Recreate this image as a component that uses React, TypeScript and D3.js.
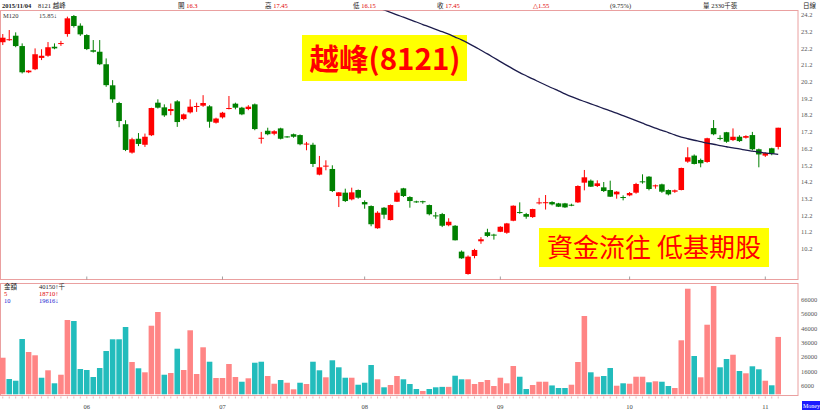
import React from 'react';
import * as d3 from 'd3';

const opens = [22.57,22.70,22.96,22.34,20.77,20.95,21.63,21.76,22.30,22.48,23.06,24.14,23.56,23.00,22.09,22.00,21.25,19.99,18.93,17.66,15.96,16.79,16.43,17.00,18.95,18.67,18.45,19.03,17.97,18.37,18.72,18.77,18.73,17.75,18.07,18.60,18.89,18.65,18.57,18.85,16.80,17.27,17.09,17.41,16.93,17.06,17.01,16.45,16.43,14.64,15.13,14.98,13.36,13.56,13.16,13.72,13.00,12.76,11.43,12.66,11.92,13.02,13.82,13.30,13.04,13.05,12.82,12.20,12.28,11.61,11.58,10.03,8.69,9.77,10.65,11.19,11.05,11.22,11.16,11.88,12.40,12.28,12.10,12.94,12.95,13.00,12.92,12.92,12.84,12.98,14.16,14.28,13.96,13.88,13.72,13.46,13.30,13.40,13.56,14.24,14.52,13.96,14.06,13.72,13.62,13.72,15.42,15.78,15.52,15.40,17.43,16.84,17.18,16.71,16.91,16.85,17.01,16.16,15.78,16.22,16.30];
const highs = [23.06,23.30,23.16,22.50,20.90,22.20,22.15,22.58,22.50,22.65,24.10,24.20,23.70,23.05,22.70,22.70,21.60,20.30,19.00,17.90,16.85,17.13,17.10,18.65,19.15,18.85,18.90,19.10,18.30,19.15,18.95,19.40,18.80,18.05,18.40,19.35,18.95,18.70,18.80,18.90,17.20,17.45,17.30,17.45,16.95,17.10,17.05,16.60,16.55,15.76,15.50,15.20,13.60,13.80,13.86,13.75,13.10,12.80,12.45,12.70,12.85,13.70,13.85,13.35,13.08,13.08,12.85,12.40,12.35,12.03,11.62,10.10,9.80,10.20,10.90,11.40,11.10,11.55,11.75,12.80,12.98,12.35,12.60,13.25,13.42,13.05,12.95,12.95,12.90,14.00,14.92,14.35,14.30,14.20,14.28,13.65,13.40,13.60,14.15,14.66,14.55,14.05,14.10,13.75,13.75,15.06,16.28,15.85,15.60,16.85,17.91,17.00,17.20,17.41,17.00,17.00,17.20,16.20,15.96,16.25,17.45];
const lows = [22.40,22.65,22.27,20.70,20.72,20.90,21.50,21.70,22.15,22.35,22.90,23.45,22.95,22.10,21.95,21.20,19.90,18.95,17.48,16.05,15.90,16.35,16.30,16.95,18.60,18.10,18.20,17.50,17.90,18.30,18.40,18.70,17.45,17.70,18.00,18.55,18.55,18.20,18.50,17.30,16.50,17.00,17.00,16.75,16.85,16.85,16.40,16.10,15.10,14.60,14.90,13.60,12.70,13.00,13.10,13.20,12.60,11.55,11.40,12.00,11.90,13.00,13.30,12.66,12.95,12.90,12.20,12.00,11.50,11.55,10.70,9.60,8.65,9.63,10.50,10.90,10.75,11.20,11.10,11.85,12.30,12.00,12.05,12.85,12.55,12.80,12.70,12.65,12.75,12.95,13.70,13.90,13.90,13.60,13.30,13.20,13.10,13.35,13.50,14.10,13.70,13.80,13.55,13.40,13.55,13.70,15.35,15.25,15.08,15.35,17.00,16.70,16.55,16.65,16.60,16.80,16.10,15.08,15.70,15.80,16.15];
const closes = [22.84,22.75,22.34,20.77,20.87,21.85,21.76,22.27,22.20,22.52,24.00,23.54,23.04,22.16,22.00,21.25,20.00,19.15,17.85,16.12,16.76,16.48,16.91,18.63,18.65,18.19,18.57,17.79,18.25,18.71,18.75,18.93,17.81,18.00,18.35,18.63,18.65,18.25,18.71,17.37,16.85,17.06,17.24,16.79,16.89,16.91,16.46,16.50,15.28,15.08,15.18,13.66,13.58,13.06,13.58,13.26,12.86,11.67,12.36,12.24,12.82,13.56,13.36,13.06,13.00,13.02,12.27,12.16,11.58,11.82,10.71,9.63,9.73,10.13,10.77,10.97,11.01,11.52,11.72,12.78,12.36,12.12,12.58,12.98,12.99,12.86,12.72,12.68,12.80,13.96,14.48,13.92,14.12,13.66,13.32,13.62,13.26,13.54,14.08,14.20,13.78,14.00,13.62,13.46,13.70,15.04,15.68,15.28,15.32,16.82,17.06,16.80,16.61,16.91,16.65,16.95,16.16,15.85,15.93,15.90,17.45];
const volumes = [25600,10700,9500,38700,29600,27300,11600,16800,7700,13700,52000,51300,17700,17000,12100,18400,30300,38500,38500,47100,22600,18200,15400,48000,57600,13700,14900,31900,17000,44800,14200,32900,22800,11400,11400,21200,12100,8800,11200,22100,22800,12800,7400,10000,8100,3500,8100,7200,22800,16800,11900,23800,18900,11600,11600,6700,8100,20500,10500,4900,6500,12800,10500,7200,3700,2300,3700,4900,5200,5200,13000,10500,10500,7200,8600,10000,5800,11600,7700,19800,12300,3700,6500,8800,8800,6200,4400,4400,6700,22600,54800,15400,12300,12800,18400,6000,7700,7400,12300,12300,8400,9100,8800,5800,4400,37800,73900,26800,11900,48700,75800,18900,24700,27700,16300,14700,19600,17500,9500,6300,40150];
const ma120Start = 55;
const ma120 = [25.10,24.95,24.80,24.65,24.50,24.36,24.21,24.07,23.92,23.78,23.63,23.49,23.34,23.20,23.05,22.88,22.71,22.52,22.31,22.09,21.87,21.64,21.41,21.18,20.96,20.75,20.56,20.37,20.19,20.01,19.83,19.66,19.48,19.31,19.16,19.02,18.88,18.74,18.60,18.46,18.32,18.17,18.02,17.87,17.72,17.57,17.43,17.29,17.16,17.02,16.89,16.79,16.70,16.62,16.53,16.46,16.38,16.31,16.24,16.18,16.11,16.05,15.99,15.94,15.90,15.85];
const priceTicks = [24.2,23.2,22.2,21.2,20.2,19.2,18.2,17.2,16.2,15.2,14.2,13.2,12.2,11.2,10.2];
const volumeTicks = [66000,56000,46000,36000,26000,16000,6000];
const monthLabels = ['06','07','08','09','10','11'];
const monthIndex = [13,34,56,77,97,118];

const SERIF = "'Liberation Serif','DejaVu Serif','Noto Sans CJK TC',serif";
const CJK = "'Noto Sans CJK TC','Noto Sans CJK SC',sans-serif";
const BORDER = '#eaa0a0';
const UP = '#ff0000';
const DOWN = '#008000';
const VUP = '#ff8585';
const VDOWN = '#22bcbc';

const PANEL_R = 797.5;
const MAIN_TOP = 10.5;
const MAIN_BOTTOM = 279.5;
const VOL_TOP = 283.5;
const VOL_BOTTOM = 395.5;

export default function App() {
  const idx = d3.range(closes.length);
  const x = d3.scaleBand<number>().domain(idx).range([0, 781]).paddingInner(0.14);
  const bw = x.bandwidth();
  const cx = (i: number) => (x(i) as number) + bw / 2;
  const y = d3.scaleLinear().domain([10.2, 24.2]).range([248.8, 15]);
  const yv = d3.scaleLinear().domain([0, 66000]).range([394.3, 300]);

  const maLine = d3
    .line<number>()
    .x((_, k) => cx(ma120Start + k))
    .y((v) => y(v))
    .curve(d3.curveMonotoneX)(ma120) || '';

  const header: { t: string; v?: string; x: number; c?: string }[] = [
    { t: '開', v: '16.3', x: 178 },
    { t: '高', v: '17.45', x: 265 },
    { t: '低', v: '16.15', x: 353 },
    { t: '收', v: '17.45', x: 437 },
  ];

  return (
    <svg
      width={820}
      height={413}
      style={{ position: 'absolute', left: 0, top: 0, background: '#fff' }}
      fontFamily={SERIF}
    >
      <defs>
        <clipPath id="mainClip">
          <rect x={0} y={MAIN_TOP} width={PANEL_R} height={MAIN_BOTTOM - MAIN_TOP} />
        </clipPath>
      </defs>
      <rect x={0} y={0} width={820} height={413} fill="#fff" />

      {/* header */}
      <g fontSize={6.5} fill="#222">
        <text x={2} y={7.5} fontWeight="bold">2015/11/04</text>
        <text x={38} y={7.5}>8121 越峰</text>
        {header.map((h) => (
          <text key={h.t} x={h.x} y={7.5}>
            <tspan fill="#222">{h.t} </tspan>
            <tspan fill="#e00000">{h.v}</tspan>
          </text>
        ))}
        <text x={533} y={7.5} fill="#e00000">△1.55</text>
        <text x={610} y={7.5}>(9.75%)</text>
        <text x={703} y={7.5}>量 2330千張</text>
        <text x={803} y={7.5}>日線</text>
      </g>

      {/* panels */}
      <rect x={0.5} y={MAIN_TOP} width={PANEL_R} height={MAIN_BOTTOM - MAIN_TOP} fill="none" stroke={BORDER} strokeWidth={1} />
      <rect x={0.5} y={VOL_TOP} width={PANEL_R} height={VOL_BOTTOM - VOL_TOP} fill="none" stroke={BORDER} strokeWidth={1} />

      {/* annotation boxes */}
      <rect x={302} y={35} width={165} height={46} fill="#ffff00" />
      <text x={385} y={70} textAnchor="middle" fontFamily={CJK} fontWeight="bold" fontSize={29.5} fill="#ff0000">越峰(8121)</text>
      <rect x={539} y={228} width={230} height={39} fill="#ffff00" />
      <text x={654} y={257} textAnchor="middle" fontFamily={CJK} fontSize={26} fill="#ff0000">資金流往 低基期股</text>

      {/* price axis */}
      <g fontSize={6.5} fill="#555">
        {priceTicks.map((t) => (
          <text key={t} x={801} y={y(t) + 2.2}>{t.toFixed(1)}</text>
        ))}
      </g>

      {/* candles */}
      <g clipPath="url(#mainClip)">
        {idx.map((i) => {
          const up = closes[i] >= opens[i];
          const col = up ? UP : DOWN;
          const top = y(Math.max(opens[i], closes[i]));
          const bot = y(Math.min(opens[i], closes[i]));
          return (
            <g key={i}>
              <line x1={cx(i)} x2={cx(i)} y1={y(highs[i])} y2={y(lows[i])} stroke={col} strokeWidth={1} />
              <rect x={x(i) as number} y={top} width={bw} height={Math.max(1, bot - top)} fill={col} />
            </g>
          );
        })}
        <path d={maLine} fill="none" stroke="#1c1c4c" strokeWidth={1.3} />
      </g>

      {/* month ticks at main bottom */}
      {monthIndex.map((m) => (
        <line key={'mt' + m} x1={cx(m)} x2={cx(m)} y1={MAIN_BOTTOM - 3} y2={MAIN_BOTTOM} stroke="#888" strokeWidth={0.8} />
      ))}

      <g fontSize={6.5} fill="#333">
        <text x={3} y={18}>M120</text>
        <text x={39} y={18}>15.85↓</text>
      </g>

      {/* volume */}
      <g>
        {idx.map((i) => {
          const up = i === 0 ? true : closes[i] >= closes[i - 1];
          return (
            <rect key={'v' + i} x={x(i) as number} y={yv(volumes[i])} width={bw} height={yv(0) - yv(volumes[i])} fill={up ? VUP : VDOWN} />
          );
        })}
      </g>
      <g fontSize={6.5} fill="#555">
        {volumeTicks.map((t) => (
          <text key={t} x={801} y={yv(t) + 2.2}>{t}</text>
        ))}
      </g>
      <g fontSize={6.5}>
        <text x={4} y={289} fill="#222">金額</text>
        <text x={39} y={289} fill="#222">40150↑千</text>
        <text x={4} y={296} fill="#e00000">5</text>
        <text x={39} y={296} fill="#e00000">18710↑</text>
        <text x={4} y={303} fill="#2020d0">10</text>
        <text x={39} y={303} fill="#2020d0">19616↓</text>
      </g>

      {/* bottom axis */}
      {idx.map((i) => (
        <line key={'dt' + i} x1={cx(i)} x2={cx(i)} y1={VOL_BOTTOM + 1} y2={VOL_BOTTOM + 3} stroke={BORDER} strokeWidth={0.8} />
      ))}
      <g fontSize={6.5} fill="#444">
        {monthIndex.map((m, k) => (
          <text key={'ml' + m} x={cx(m)} y={409} textAnchor="middle">{monthLabels[k]}</text>
        ))}
      </g>
      <rect x={802} y={401} width={18} height={9} fill="#1a1aff" />
      <text x={803} y={408} fontSize={6} fill="#fff">Money</text>
    </svg>
  );
}
